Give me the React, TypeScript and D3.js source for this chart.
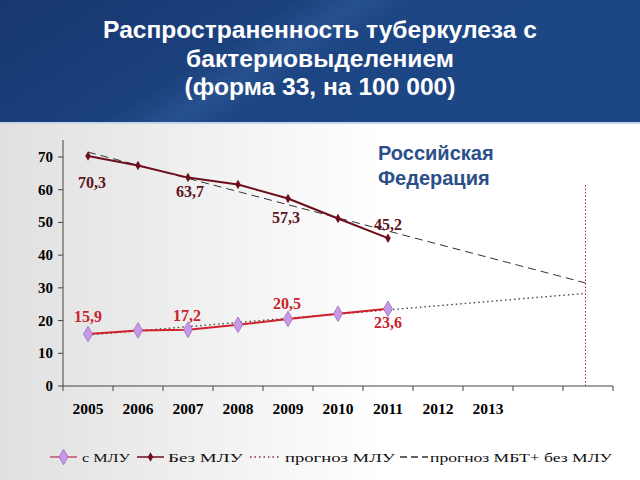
import React from 'react';
import * as d3 from 'd3';

// data
const years = [2005, 2006, 2007, 2008, 2009, 2010, 2011];
const withMdr = [15.9, 17.0, 17.2, 18.7, 20.5, 22.1, 23.6];
const withoutMdr = [70.3, 67.4, 63.7, 61.6, 57.3, 51.2, 45.2];
const labelledIdx = [0, 2, 4, 6];
const forecastMdr: [number, number][] = [[2005, 15.6], [2014.95, 28.3]];
const forecastMbt: [number, number][] = [[2005, 71.5], [2014.95, 31.5]];
const yearLabels = ['2005', '2006', '2007', '2008', '2009', '2010', '2011', '2012', '2013'];
const yTicks = [0, 10, 20, 30, 40, 50, 60, 70];
const titleLines = ['Распространенность туберкулеза с', 'бактериовыделением', '(форма 33, на 100 000)'];
const legendNames = ['с МЛУ', 'Без МЛУ', 'прогноз МЛУ', 'прогноз МБТ+ без МЛУ'];

// label nudges (px) for the labelled points
const upperNudge = [[4, 32], [2, 19.5], [-2, 24.5], [0, -8]];
const lowerNudge = [[0, -12], [-1, -8.5], [-1, -10], [0, 19.5]];

const fmt = (v: number) => v.toFixed(1).replace('.', ',');

const App: React.FC = () => {
	const x = d3.scaleLinear().domain([2004.5, 2015.5]).range([63, 613]);
	const y = d3.scaleLinear().domain([0, 70]).range([386, 157]);
	const line = d3.line<[number, number]>().x(d => x(d[0])).y(d => y(d[1]));
	const xTicks = d3.range(2004.5, 2016, 1);

	const lower: [number, number][] = years.map((yr, i) => [yr, withMdr[i]]);
	const upper: [number, number][] = years.map((yr, i) => [yr, withoutMdr[i]]);
	const diamond = d3.symbol(d3.symbolDiamond, 70)() as string;
	const smallDiamond = d3.symbol(d3.symbolDiamond, 26)() as string;
	const serif = '"Liberation Serif", "DejaVu Serif", serif';
	const sans = '"Liberation Sans", Arial, sans-serif';

	// legend layout: [line start, line end, text start, text width]
	const legendPos = [[50, 77, 82, 48], [137, 164, 168, 75], [250, 281, 285, 110], [400, 428, 430, 182]];

	return (
		<svg width={640} height={480} style={{ position: 'absolute', left: 0, top: 0 }}>
			<defs>
				<linearGradient id="band" x1="0" y1="0" x2="1" y2="0.3">
					<stop offset="0" stopColor="#17376f" />
					<stop offset="0.42" stopColor="#1b417d" />
					<stop offset="0.52" stopColor="#27508e" />
					<stop offset="0.6" stopColor="#1d4584" />
					<stop offset="1" stopColor="#1c4685" />
				</linearGradient>
				<linearGradient id="bg" x1="0" y1="0" x2="1" y2="0">
					<stop offset="0" stopColor="#e0e0e0" />
					<stop offset="0.35" stopColor="#f2f2f2" />
					<stop offset="0.6" stopColor="#ffffff" />
					<stop offset="1" stopColor="#ffffff" />
				</linearGradient>
			</defs>
			<rect x={0} y={0} width={640} height={480} fill="url(#bg)" />
			<rect x={0} y={0} width={640} height={122} fill="url(#band)" />
			<rect x={0} y={122} width={640} height={2} fill="#c9d6ea" />
			{titleLines.map((t, i) => (
				<text key={t} transform={`translate(320,${38 + i * 28.5}) scale(1.07,1)`} textAnchor="middle" fill="#ffffff"
					fontFamily={sans} fontWeight="bold" fontSize={23}>{t}</text>
			))}

			<text x={378} y={160} fill="#2b4f89" fontFamily={sans} fontWeight="bold" fontSize={20}>Российская</text>
			<text x={378} y={185} fill="#2b4f89" fontFamily={sans} fontWeight="bold" fontSize={20}>Федерация</text>

			{/* axes */}
			<line x1={63} x2={63} y1={140} y2={386} stroke="#444" strokeWidth={1} />
			<line x1={63} x2={613} y1={386} y2={386} stroke="#444" strokeWidth={1} />
			{yTicks.map(t => (
				<g key={t}>
					<line x1={58} x2={63} y1={y(t)} y2={y(t)} stroke="#444" />
					<text x={53} y={y(t) + 5} textAnchor="end" fontFamily={serif} fontWeight="bold" fontSize={15}>{t}</text>
				</g>
			))}
			{xTicks.map(t => (
				<line key={t} x1={x(t)} x2={x(t)} y1={386} y2={391} stroke="#444" />
			))}
			{yearLabels.map(l => (
				<text key={l} x={x(+l)} y={414} textAnchor="middle" fontFamily={serif} fontWeight="bold" fontSize={15.5}>{l}</text>
			))}

			{/* forecast end marker */}
			<line x1={x(2014.95)} x2={x(2014.95)} y1={185} y2={386} stroke="#a0303a" strokeWidth={1} strokeDasharray="1.5,2" />

			{/* forecasts */}
			<path d={line(forecastMbt) as string} fill="none" stroke="#333" strokeWidth={1} strokeDasharray="8,5" />
			<path d={line(forecastMdr) as string} fill="none" stroke="#444" strokeWidth={1.4} strokeDasharray="1.5,3" />

			{/* series */}
			<path d={line(upper) as string} fill="none" stroke="#6e0e1c" strokeWidth={2} />
			{upper.map(d => (
				<path key={d[0]} d={smallDiamond} transform={`translate(${x(d[0])},${y(d[1])})`} fill="#6e0e1c" />
			))}
			<path d={line(lower) as string} fill="none" stroke="#d0202a" strokeWidth={2} />
			{lower.map(d => (
				<path key={d[0]} d={diamond} transform={`translate(${x(d[0])},${y(d[1])})`} fill="#c79ae6" stroke="#9b68c4" strokeWidth={0.8} />
			))}

			{/* value labels */}
			{labelledIdx.map((i, k) => (
				<text key={'u' + i} x={x(years[i]) + upperNudge[k][0]} y={y(withoutMdr[i]) + upperNudge[k][1]}
					textAnchor="middle" fill="#5e1420" fontFamily={serif} fontWeight="bold" fontSize={16}>{fmt(withoutMdr[i])}</text>
			))}
			{labelledIdx.map((i, k) => (
				<text key={'l' + i} x={x(years[i]) + lowerNudge[k][0]} y={y(withMdr[i]) + lowerNudge[k][1]}
					textAnchor="middle" fill="#c8232c" fontFamily={serif} fontWeight="bold" fontSize={16}>{fmt(withMdr[i])}</text>
			))}

			{/* legend */}
			<g fontFamily={serif} fontSize={13.5} fill="#111">
				<line x1={legendPos[0][0]} x2={legendPos[0][1]} y1={457} y2={457} stroke="#c0506a" strokeWidth={1.5} />
				<path d={diamond} transform={`translate(${(legendPos[0][0] + legendPos[0][1]) / 2},457)`} fill="#c79ae6" stroke="#9b68c4" strokeWidth={0.8} />
				<line x1={legendPos[1][0]} x2={legendPos[1][1]} y1={457} y2={457} stroke="#6e0e1c" strokeWidth={1.5} />
				<path d={smallDiamond} transform={`translate(${(legendPos[1][0] + legendPos[1][1]) / 2},457)`} fill="#6e0e1c" />
				<line x1={legendPos[2][0]} x2={legendPos[2][1]} y1={457} y2={457} stroke="#8a2a3a" strokeWidth={1.3} strokeDasharray="1.5,3" />
				<line x1={legendPos[3][0]} x2={legendPos[3][1]} y1={457} y2={457} stroke="#333" strokeWidth={1.4} strokeDasharray="7,4" />
				{legendNames.map((n, i) => (
					<text key={n} x={legendPos[i][2]} y={462} textLength={legendPos[i][3]} lengthAdjust="spacingAndGlyphs">{n}</text>
				))}
			</g>
		</svg>
	);
};

export default App;
